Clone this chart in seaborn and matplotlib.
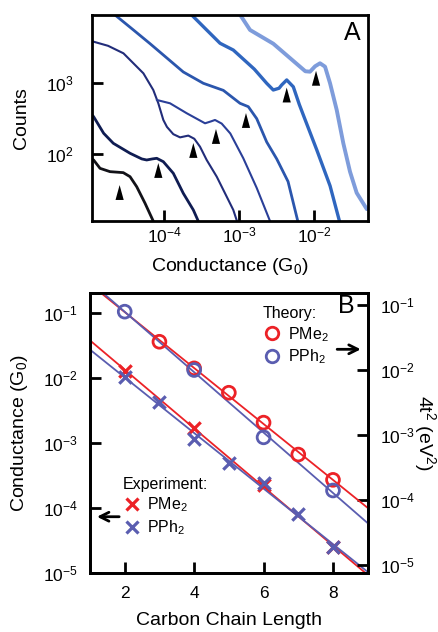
import numpy as np
import matplotlib
matplotlib.use("Agg")
import matplotlib.pyplot as plt
from matplotlib.lines import Line2D
from matplotlib.ticker import NullLocator, LogFormatterMathtext
import seaborn as sns

# ---------------- Panel A data (log10 conductance, log10 counts) ----------------
c1_logg = [-4.97, -4.943, -4.857, -4.724, -4.62, -4.547, -4.457, -4.368, -4.257, -4.147]
c1_logn = [1.93, 1.915, 1.797, 1.75, 1.742, 1.736, 1.679, 1.537, 1.303, 1.05]
c2_logg = [-4.97, -4.943, -4.809, -4.68, -4.457, -4.3, -4.235, -4.16, -4.101, -4.013, -3.88, -3.747, -3.613, -3.547]
c2_logn = [2.56, 2.528, 2.293, 2.151, 2.01, 1.93, 1.915, 1.93, 1.939, 1.891, 1.727, 1.444, 1.208, 1.05]
c3_logg = [-4.97, -4.943, -4.75, -4.545, -4.279, -4.147, -4.08, -4.013, -3.965, -3.88, -3.79, -3.68, -3.6,
           -3.524, -3.435, -3.301, -3.168, -3.08, -3.031]
c3_logn = [3.6, 3.588, 3.53, 3.424, 3.141, 2.905, 2.717, 2.481, 2.383, 2.28, 2.235, 2.26, 2.215,
           2.103, 1.915, 1.679, 1.396, 1.208, 1.05]
c4_logg = [-4.101, -3.924, -3.701, -3.457, -3.38, -3.324, -3.235, -3.12, -2.947, -2.768, -2.591]
c4_logn = [2.764, 2.717, 2.576, 2.434, 2.46, 2.481, 2.43, 2.29, 1.94, 1.52, 1.052]
c5_logg = [-4.657, -4.412, -4.19, -3.747, -3.48, -3.213, -2.991, -2.88, -2.768, -2.635, -2.501, -2.35, -2.22]
c5_logn = [3.966, 3.754, 3.56, 3.16, 3.0, 2.9, 2.717, 2.669, 2.5, 2.17, 1.93, 1.61, 1.05]
c6_logg = [-3.635, -3.435, -3.257, -3.08, -2.8, -2.635, -2.547, -2.47, -2.435, -2.368, -2.28, -2.2, -2.146,
           -1.968, -1.79, -1.665]
c6_logn = [3.966, 3.754, 3.566, 3.47, 3.2, 3.0, 2.905, 2.93, 2.976, 3.047, 2.95, 2.7, 2.55,
           2.06, 1.55, 1.052]
c7_logg = [-2.99, -2.857, -2.547, -2.191, -2.12, -2.057, -1.99, -1.924, -1.857, -1.79, -1.701, -1.613,
           -1.524, -1.435, -1.3]
c7_logn = [3.97, 3.754, 3.56, 3.235, 3.17, 3.164, 3.24, 3.283, 3.235, 3.0, 2.622, 2.151,
           1.75, 1.45, 1.22]

peak_logg = [-4.596, -4.08, -3.613, -3.311, -2.911, -2.368, -1.977]
peak_logn = [1.455, 1.767, 2.05, 2.248, 2.474, 2.834, 3.071]

curve_colors = ["#121218", "#0f1c52", "#222d7a", "#2a3f98", "#2b56ad", "#2f66bf", "#7e9cdb"]
curve_widths = [2.0, 2.0, 1.5, 1.5, 2.0, 2.4, 2.8]

# ---------------- Panel B data ----------------
exp_pme2_n = [2, 4, 6, 8]
exp_pme2_g = [1.31e-2, 1.74e-3, 2.25e-4, 2.55e-5]
exp_pph2_n = [2, 3, 4, 5, 6, 7, 8]
exp_pph2_g = [1.06e-2, 4.27e-3, 1.15e-3, 5.0e-4, 2.43e-4, 8.1e-5, 2.56e-5]
th_pme2_n = [3, 4, 5, 6, 7, 8]
th_pme2_t = [2.72e-2, 1.06e-2, 4.47e-3, 1.55e-3, 5.0e-4, 2.04e-4]
th_pph2_n = [2, 4, 6, 8]
th_pph2_t = [7.9e-2, 1.0e-2, 9.2e-4, 1.4e-4]

RED = "#ec2227"
BLUE = "#5a5db0"

sns.set_style("ticks")
plt.rcParams["font.family"] = ["Liberation Sans", "DejaVu Sans"]
plt.rcParams["mathtext.fontset"] = "custom"
plt.rcParams["mathtext.rm"] = "Liberation Sans"
plt.rcParams["mathtext.it"] = "Liberation Sans:italic"
plt.rcParams["mathtext.bf"] = "Liberation Sans:bold"
plt.rcParams["mathtext.default"] = "regular"
for key in ["text.color", "axes.labelcolor", "xtick.color", "ytick.color", "axes.edgecolor"]:
    plt.rcParams[key] = "black"

fig = plt.figure(figsize=(4.38, 6.32), dpi=100)
axA = fig.add_axes([0.2094, 0.6503, 0.6301, 0.3260])
axB = fig.add_axes([0.2055, 0.0929, 0.6340, 0.4430])

TICK_FS = 12.5
LABEL_FS = 14

# ---------------- Panel A ----------------
curves = [(c1_logg, c1_logn), (c2_logg, c2_logn), (c3_logg, c3_logn), (c4_logg, c4_logn),
          (c5_logg, c5_logn), (c6_logg, c6_logn), (c7_logg, c7_logn)]
for (lg, ln), col, lw in zip(curves, curve_colors, curve_widths):
    sns.lineplot(x=10 ** np.array(lg), y=10 ** np.array(ln), ax=axA, sort=False,
                 estimator=None, color=col, lw=lw, solid_joinstyle="round",
                 solid_capstyle="round")
sns.scatterplot(x=10 ** np.array(peak_logg), y=10 ** np.array(peak_logn), ax=axA,
                marker=[(-0.55, -1), (0.55, -1), (0, 1)], s=115, color="black",
                edgecolor="none", zorder=5)
axA.set_xscale("log")
axA.set_yscale("log")
axA.set_xlim(10 ** -4.968, 10 ** -1.288)
axA.set_ylim(10 ** 1.052, 10 ** 3.966)
axA.set_xticks([1e-4, 1e-3, 1e-2])
axA.set_yticks([1e2, 1e3])
axA.xaxis.set_minor_locator(NullLocator())
axA.yaxis.set_minor_locator(NullLocator())
axA.xaxis.set_major_formatter(LogFormatterMathtext())
axA.yaxis.set_major_formatter(LogFormatterMathtext())
axA.tick_params(axis="x", direction="in", length=8, width=2, pad=3, labelsize=TICK_FS)
axA.tick_params(axis="y", direction="in", length=8, width=2, pad=13, labelsize=TICK_FS)
axA.set_xlabel("Conductance (G$_0$)", fontsize=LABEL_FS)
axA.set_ylabel("Counts", fontsize=LABEL_FS)
axA.xaxis.set_label_coords(0.5, -0.17)
axA.yaxis.set_label_coords(-0.225, 0.5)
axA.text(0.943, 0.913, "A", transform=axA.transAxes, fontsize=18, ha="center", va="center")
for s in axA.spines.values():
    s.set_linewidth(2)

# ---------------- Panel B ----------------
ax2 = axB.twinx()
xs = np.array([1.0, 9.0])
for n, g, col, ax in [(exp_pme2_n, exp_pme2_g, RED, axB), (exp_pph2_n, exp_pph2_g, BLUE, axB),
                      (th_pme2_n, th_pme2_t, RED, ax2), (th_pph2_n, th_pph2_t, BLUE, ax2)]:
    p = np.polyfit(n, np.log10(g), 1)
    sns.lineplot(x=xs, y=10 ** (p[0] * xs + p[1]), ax=ax, color=col, lw=1.3, zorder=2)

sns.scatterplot(x=exp_pme2_n, y=exp_pme2_g, ax=axB, marker="x", s=80, color=RED,
                linewidth=2.3, zorder=3)
sns.scatterplot(x=exp_pph2_n, y=exp_pph2_g, ax=axB, marker="x", s=80, color=BLUE,
                linewidth=2.3, zorder=4)
sns.scatterplot(x=th_pme2_n, y=th_pme2_t, ax=ax2, marker="o", s=85, facecolor="none",
                edgecolor=RED, linewidth=2, zorder=3)
sns.scatterplot(x=th_pph2_n, y=th_pph2_t, ax=ax2, marker="o", s=85, facecolor="none",
                edgecolor=BLUE, linewidth=2, zorder=4)

axB.set_yscale("log")
ax2.set_yscale("log")
axB.set_xlim(1, 9)
axB.set_ylim(1e-5, 10 ** -0.692)
ax2.set_ylim(10 ** -5.128, 10 ** -0.82)
axB.set_xticks([2, 4, 6, 8])
axB.set_yticks([1e-1, 1e-2, 1e-3, 1e-4, 1e-5])
ax2.set_yticks([1e-1, 1e-2, 1e-3, 1e-4, 1e-5])
for ax in (axB, ax2):
    ax.yaxis.set_minor_locator(NullLocator())
    ax.yaxis.set_major_formatter(LogFormatterMathtext())
axB.tick_params(axis="x", direction="in", length=8, width=2, pad=9, labelsize=TICK_FS)
axB.tick_params(axis="y", direction="in", length=8, width=2, pad=9, labelsize=TICK_FS)
ax2.tick_params(axis="y", direction="in", length=8, width=2, pad=9, labelsize=TICK_FS)
axB.set_xlabel("Carbon Chain Length", fontsize=LABEL_FS)
axB.set_ylabel("Conductance (G$_0$)", fontsize=LABEL_FS)
axB.xaxis.set_label_coords(0.5, -0.14)
axB.yaxis.set_label_coords(-0.215, 0.5)
ax2.set_ylabel("4t$^2$ (eV$^2$)", fontsize=LABEL_FS, rotation=270, va="bottom")
ax2.yaxis.set_label_coords(1.16, 0.5)
for ax in (axB, ax2):
    for s in ax.spines.values():
        s.set_linewidth(2)

ax2.text(0.924, 0.955, "B", transform=ax2.transAxes, fontsize=18, ha="center", va="center")

th_handles = [Line2D([], [], ls="none", marker="o", ms=9, mfc="none", mec=RED, mew=2),
              Line2D([], [], ls="none", marker="o", ms=9, mfc="none", mec=BLUE, mew=2)]
ex_handles = [Line2D([], [], ls="none", marker="x", ms=9, mec=RED, mew=2.3),
              Line2D([], [], ls="none", marker="x", ms=9, mec=BLUE, mew=2.3)]
labels = ["PMe$_2$", "PPh$_2$"]
leg1 = ax2.legend(th_handles, labels, title="Theory:", loc="upper left",
                  bbox_to_anchor=(0.62, 0.955), frameon=False, fontsize=11.5,
                  title_fontsize=11.5, handlelength=1.2, handletextpad=0.4,
                  labelspacing=0.25, borderpad=0, borderaxespad=0, alignment="left")
ax2.add_artist(leg1)
ax2.legend(ex_handles, labels, title="Experiment:", loc="upper left",
           bbox_to_anchor=(0.118, 0.345), frameon=False, fontsize=11.5,
           title_fontsize=11.5, handlelength=1.2, handletextpad=0.3,
           labelspacing=0.25, borderpad=0, borderaxespad=0, alignment="left")

ax2.annotate("", xy=(0.985, 0.8), xytext=(0.88, 0.8), xycoords="axes fraction",
             arrowprops=dict(arrowstyle="->", lw=2, color="black", mutation_scale=16))
ax2.annotate("", xy=(0.015, 0.202), xytext=(0.115, 0.202), xycoords="axes fraction",
             arrowprops=dict(arrowstyle="->", lw=2, color="black", mutation_scale=16))

fig.savefig("out.png", dpi=100)
